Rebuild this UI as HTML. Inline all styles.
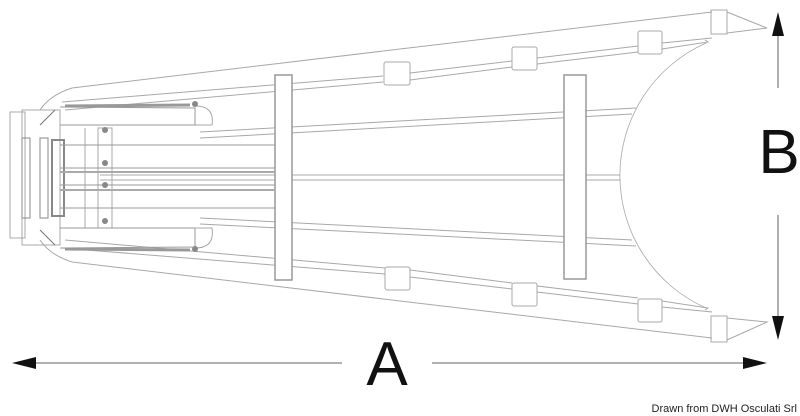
<!DOCTYPE html>
<html><head><meta charset="utf-8"><style>
html,body{margin:0;padding:0;background:#fff;width:800px;height:416px;overflow:hidden}
svg{display:block}
</style></head><body>
<svg width="800" height="416" viewBox="0 0 800 416" xmlns="http://www.w3.org/2000/svg">
<g fill="none" stroke="#a8a8a8" stroke-width="1">
<path d="M40,110 Q50,95 72,88 L712,12"/>
<path d="M40,240 Q50,255 72,262 L712,338"/>
<rect x="711" y="10" width="16" height="24"/>
<path d="M727,12 L767,28 L727,33"/>
<rect x="711" y="316" width="16" height="26"/>
<path d="M727,340 L767,322 L727,318"/>
<path d="M62,102 L383,76 M410,73 L512,61 M537,58 L638,46 M662,43 L712,38"/>
<path d="M65,110 L383,82 M410,80 L512,67 M537,64 L638,52 M662,49 L708,42 L705,40"/>
<path d="M62,248 L385,274 M410,277 L512,289 M537,292 L638,304 M662,307 L712,312"/>
<path d="M65,240 L385,268 M410,270 L512,283 M537,286 L638,298 M662,301 L708,308 L705,310"/>
<rect x="384" y="62" width="26" height="23" rx="2"/>
<rect x="512" y="47" width="25" height="23" rx="2"/>
<rect x="638" y="31" width="24" height="23" rx="2"/>
<rect x="385" y="267" width="25" height="23" rx="2"/>
<rect x="512" y="283" width="25" height="23" rx="2"/>
<rect x="638" y="299" width="24" height="23" rx="2"/>
<path d="M706,43 A145,145 0 0 0 706,308" stroke-width="0.8"/>
<path d="M200,132 L636,108 M200,138 L632,114"/>
<path d="M200,218 L632,240 M200,224 L636,246"/>
<path d="M100,175 L620,175 M100,180 L620,180"/>
<rect x="275" y="75" width="17" height="205" fill="#fff" stroke="#999" stroke-width="1.5"/>
<rect x="564" y="75" width="22" height="204" fill="#fff" stroke="#999" stroke-width="1.5"/>
<path d="M10,112 L25,112 L25,238 L10,238 Z"/>
<rect x="22" y="110" width="38" height="135"/>
<rect x="22" y="138" width="8" height="80" stroke="#888"/>
<rect x="40" y="138" width="8" height="80" stroke="#888"/>
<rect x="52" y="140" width="12" height="76" stroke="#888" stroke-width="2"/>
<path d="M40,125 L55,110 M40,230 L55,245" stroke="#777"/>
<rect x="98" y="128" width="14" height="100"/>
<path d="M60,107 L195,108 L195,125 L60,125 M60,248 L195,247 L195,228 L60,228" stroke="#999"/>
<path d="M65,106 L190,105 M65,249 L190,250" stroke="#999" stroke-width="3"/>
<path d="M195,106 Q215,106 212,125 L195,125 M195,228 L212,228 Q215,248 195,248"/>
<path d="M60,168 L275,168 M60,185 L275,185 M60,145 L275,145 M60,208 L275,208" stroke="#999"/>
<path d="M60,172 L275,172 M60,190 L275,190" stroke="#aaa" stroke-width="2"/>
<path d="M85,128 L85,228"/>
</g>
<g fill="#888">
<circle cx="105" cy="130" r="3"/><circle cx="105" cy="163" r="3"/><circle cx="105" cy="185" r="3"/><circle cx="105" cy="221" r="3"/>
<circle cx="195" cy="104" r="3"/><circle cx="195" cy="249" r="3"/>
</g>
<g stroke="#b0b0b0" stroke-width="2">
<line x1="30" y1="363" x2="342" y2="363"/>
<line x1="432" y1="363" x2="748" y2="363"/>
<line x1="778" y1="32" x2="778" y2="88"/>
<line x1="778" y1="215" x2="778" y2="320"/>
</g>
<g fill="#111">
<polygon points="12,363 36,357 36,369"/>
<polygon points="767,363 743,357 743,369"/>
<polygon points="778,12 772,36 784,36"/>
<polygon points="778,340 772,316 784,316"/>
</g>
<text x="387" y="385" font-family="Liberation Sans, sans-serif" font-size="62" text-anchor="middle" fill="#111">A</text>
<text x="779" y="173" font-family="Liberation Sans, sans-serif" font-size="62" text-anchor="middle" fill="#111">B</text>
<text x="797" y="412" font-family="Liberation Sans, sans-serif" font-size="11" text-anchor="end" fill="#222">Drawn from DWH Osculati Srl</text>
</svg>
</body></html>
